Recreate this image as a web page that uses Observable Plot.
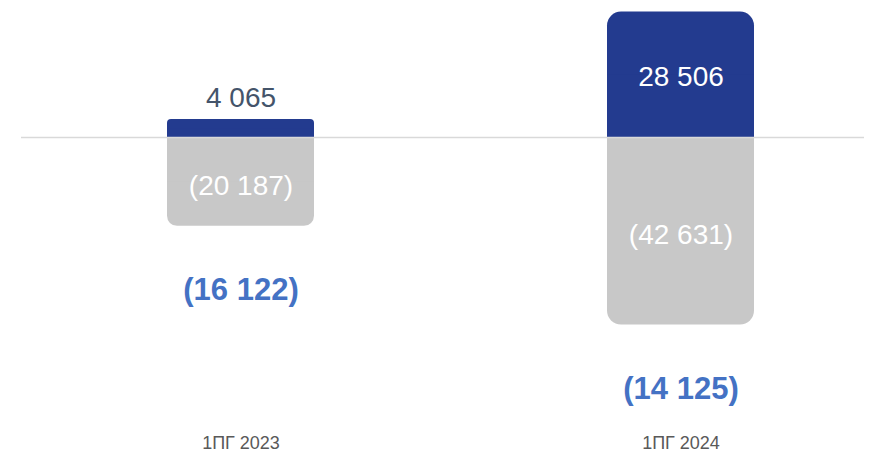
<!DOCTYPE html>
<html>
<head>
<meta charset="utf-8">
<script src="https://cdn.jsdelivr.net/npm/d3@7"></script>
<script src="https://cdn.jsdelivr.net/npm/@observablehq/plot@0.6"></script>
<style>
  html, body { margin: 0; padding: 0; background: #ffffff; }
</style>
</head>
<body>
<div id="chart"></div>
<script>
// ---- data ----
const categories = ["1ПГ 2023", "1ПГ 2024"];
const positive = [4065, 28506];
const negative = [-20187, -42631];
const net = [-16122, -14125];

// ---- helpers ----
const fmt = v => {
  const s = d3.format(",")(Math.abs(v)).replace(/,/g, " ");
  return v < 0 ? `(${s})` : s;
};
const rows = categories.map((c, i) => ({c, pos: positive[i], neg: negative[i], net: net[i]}));

const BLUE = "#233b8f", GRAY = "#c8c8c8";
const posRadius = [4, 14];
const negRadius = [10, 14];
const FONT = "'Liberation Sans', Arial, Helvetica, sans-serif";

const k = 0.0044; // px per unit
const zeroY = 137;

// rounded on the outer end only: rounded rect + square half toward the baseline
function roundedBars(key, fill, radii) {
  return rows.flatMap((r, i) => [
    Plot.barY([r], {x: "c", y: key, fill, rx: radii[i]}),
    Plot.barY([r], {x: "c", y1: 0, y2: d => d[key] / 2, fill})
  ]);
}

const bigPos = rows.filter(r => r.pos > 10000);
const smallPos = rows.filter(r => r.pos <= 10000);

const chart = Plot.plot({
  width: 884,
  height: 452,
  marginLeft: 21,
  marginRight: 20,
  marginTop: 0,
  marginBottom: 20,
  style: {fontFamily: FONT, color: "#595959", background: "#ffffff"},
  x: {type: "band", domain: categories, range: [20, 900], paddingInner: 0.666, paddingOuter: 0.333, label: null},
  y: {domain: [-70000, 30000], range: [zeroY + 70000 * k, zeroY - 30000 * k], axis: null},
  marks: [
    ...roundedBars("pos", BLUE, posRadius),
    ...roundedBars("neg", GRAY, negRadius),
    Plot.ruleY([0], {stroke: "#d9d9d9", strokeWidth: 1.5}),
    // positive labels
    Plot.text(bigPos, {x: "c", y: d => d.pos / 2, text: d => fmt(d.pos), fill: "#ffffff", fontSize: 28, lineAnchor: "middle", dy: 2}),
    Plot.text(smallPos, {x: "c", y: "pos", text: d => fmt(d.pos), fill: "#44546a", fontSize: 28, lineAnchor: "bottom", dy: -13}),
    // negative labels
    Plot.text(rows, {x: "c", y: d => d.neg / 2, text: d => fmt(d.neg), fill: "#ffffff", fontSize: 28, lineAnchor: "middle", dy: 4}),
    // net labels
    Plot.text(rows, {x: "c", y: "neg", text: d => fmt(d.net), fill: "#4472c4", fontSize: 31, fontWeight: "bold", lineAnchor: "middle", dy: 64}),
    Plot.axisX({anchor: "bottom", tickSize: 0, tickPadding: 4, fontSize: 18, label: null, fill: "#595959"})
  ]
});
document.getElementById("chart").appendChild(chart);
</script>
</body>
</html>
